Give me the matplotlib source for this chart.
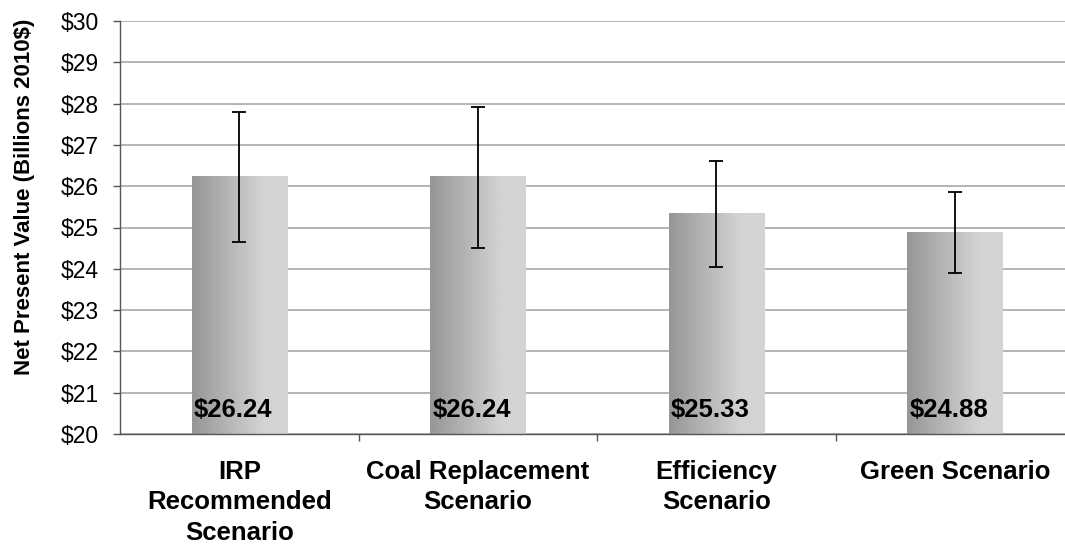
import numpy as np
import matplotlib.pyplot as plt
from matplotlib.ticker import FuncFormatter, FixedLocator

plt.rcParams['font.family'] = ['Liberation Sans', 'DejaVu Sans']

scenarios = ['IRP\nRecommended\nScenario', 'Coal Replacement\nScenario',
             'Efficiency\nScenario', 'Green Scenario']
npv = [26.24, 26.24, 25.33, 24.88]
err_low = [24.65, 24.51, 24.04, 23.91]
err_high = [27.79, 27.92, 26.62, 25.86]
value_labels = ['$26.24', '$26.24', '$25.33', '$24.88']

fig = plt.figure(figsize=(10.65, 5.46), dpi=100)
ax = fig.add_axes([120 / 1065, 1 - 434 / 546, 954 / 1065, 413 / 546])

x = np.arange(len(scenarios))
width = 0.40
ymin = 20

# gradient fill, dark on the left to light on the right
grad = np.clip(np.linspace(0, 1, 256) / 0.75, 0, 1)
cols = np.empty((1, 256, 3))
for c in range(3):
    cols[0, :, c] = (150 + (212 - 150) * grad) / 255

bars = ax.bar(x, [v - ymin for v in npv], width, bottom=ymin, color='none', zorder=2)
for b in bars:
    ax.imshow(cols, extent=(b.get_x(), b.get_x() + b.get_width(), ymin, ymin + b.get_height()),
              aspect='auto', zorder=2, interpolation='bilinear')

yerr = [np.array(npv) - np.array(err_low), np.array(err_high) - np.array(npv)]
ax.errorbar(x, npv, yerr=yerr, fmt='none', ecolor='black', elinewidth=1.3,
            capsize=5, capthick=1.3, zorder=3)

for xi, lab in zip(x, value_labels):
    ax.text(xi - 0.025, 20.58, lab, ha='center', va='center', fontsize=18.5,
            fontweight='bold', zorder=4)

ax.set_xlim(-0.5, len(scenarios) - 0.5)
ax.set_ylim(20, 30)
ax.set_yticks(range(20, 31))
ax.yaxis.set_major_formatter(FuncFormatter(lambda v, p: f'${int(v)}'))
ax.tick_params(axis='y', labelsize=16.5, length=5, width=1, color='#555555', pad=10)

ax.set_xticks(x)
ax.set_xticklabels(scenarios, fontsize=18.5, fontweight='bold', linespacing=1.32)
ax.tick_params(axis='x', which='major', length=0, pad=19)
ax.xaxis.set_minor_locator(FixedLocator(np.arange(0.5, len(scenarios) - 0.5, 1)))
ax.tick_params(axis='x', which='minor', length=5, width=1, color='#555555')

ax.grid(axis='y', color='#b4b4b4', linewidth=1.4, zorder=0)
ax.set_axisbelow(True)
for s in ['top', 'right']:
    ax.spines[s].set_visible(False)
for s in ['left', 'bottom']:
    ax.spines[s].set_color('#555555')
    ax.spines[s].set_linewidth(1)

fig.text(25 / 1065, 1 - 197 / 546, 'Net Present Value (Billions 2010$)', rotation=90,
         ha='center', va='center', fontsize=16, fontweight='bold')

fig.savefig('out.png', dpi=100)
